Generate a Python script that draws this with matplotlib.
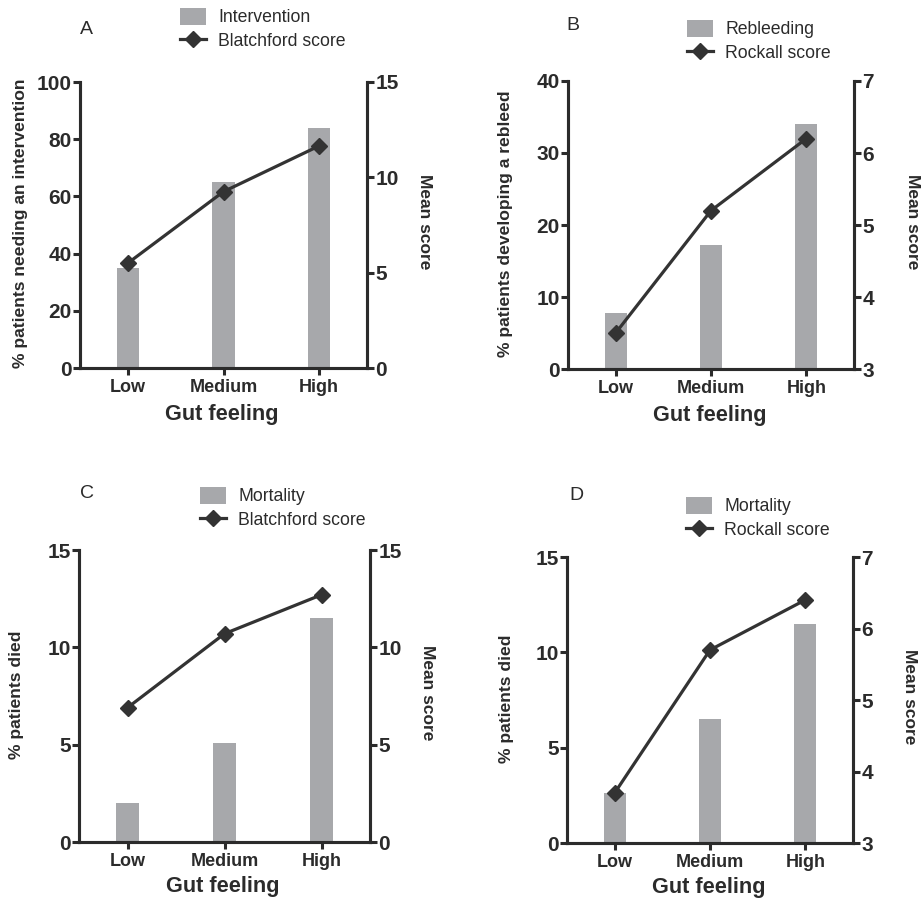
import matplotlib
matplotlib.use("Agg")
import matplotlib.pyplot as plt
from matplotlib.lines import Line2D
from matplotlib.patches import Patch

plt.rcParams['font.family'] = ['Liberation Sans', 'DejaVu Sans']

categories = ["Low", "Medium", "High"]

# panel A
intervention = [35, 65, 84]
blatchford_a = [5.5, 9.25, 11.65]
# panel B
rebleeding = [7.8, 17.2, 34]
rockall_b = [3.5, 5.2, 6.2]
# panel C
mortality_c = [2.0, 5.1, 11.5]
blatchford_c = [6.9, 10.7, 12.7]
# panel D
mortality_d = [2.6, 6.5, 11.5]
rockall_d = [3.7, 5.7, 6.4]

bar_col = "#a7a8ab"
line_col = "#333333"
txt_col = "#2b2b2b"

W, H = 922, 905
fig = plt.figure(figsize=(W / 100, H / 100), dpi=100)

panels = [
    # letter, bars, line, bar label, line label, ylabel, left lim, left ticks, right lim, right ticks,
    # axes box (px), letter pos (px), legend pos (px), ylabel x, y2label x, xlabel y
    ("A", intervention, blatchford_a, "Intervention", "Blatchford score",
     "% patients needing an intervention", (0, 100), [0, 20, 40, 60, 80, 100], (0, 15), [0, 5, 10, 15],
     (80, 82, 287, 286), (80, 30), (180, 8), -0.206, 1.202, -0.164),
    ("B", rebleeding, rockall_b, "Rebleeding", "Rockall score",
     "% patients developing a rebleed", (0, 40), [0, 10, 20, 30, 40], (3, 7), [3, 4, 5, 6, 7],
     (568, 81, 286, 288), (566, 25), (687, 20), -0.217, 1.206, -0.16),
    ("C", mortality_c, blatchford_c, "Mortality", "Blatchford score",
     "% patients died", (0, 15), [0, 5, 10, 15], (0, 15), [0, 5, 10, 15],
     (79, 550, 291, 292), (80, 493), (200, 487), -0.216, 1.199, -0.153),
    ("D", mortality_d, rockall_d, "Mortality", "Rockall score",
     "% patients died", (0, 15), [0, 5, 10, 15], (3, 7), [3, 4, 5, 6, 7],
     (567, 557, 286, 286), (569, 495), (686, 497), -0.213, 1.196, -0.155),
]

x = list(range(len(categories)))

for (letter, bars, line, bar_lab, line_lab, ylab, ylim, yticks, y2lim, y2ticks,
     box, letter_pos, leg_pos, ylx, y2lx, xly) in panels:
    left, top, w, h = box
    ax = fig.add_axes([left / W, 1 - (top + h) / H, w / W, h / H])
    ax.bar(x, bars, width=0.23, color=bar_col, zorder=1)
    ax.set_xlim(-0.5, 2.5)
    ax.set_ylim(*ylim)
    ax.set_yticks(yticks)
    ax.set_xticks(x)
    ax.set_xticklabels(categories)

    ax2 = ax.twinx()
    ax2.plot(x, line, color=line_col, lw=2.3, marker="D", markersize=8.5, zorder=3)
    ax2.set_ylim(*y2lim)
    ax2.set_yticks(y2ticks)

    for a in (ax, ax2):
        a.spines["top"].set_visible(False)
        for s in ("left", "right", "bottom"):
            a.spines[s].set_linewidth(2.2)
            a.spines[s].set_color(txt_col)
        a.tick_params(width=2.2, length=5, color=txt_col, labelcolor=txt_col)
    ax.tick_params(axis="y", labelsize=15, pad=1)
    ax.tick_params(axis="x", labelsize=13, pad=3)
    ax2.tick_params(axis="y", labelsize=15, pad=1)
    for lab in ax.get_yticklabels() + ax.get_xticklabels() + ax2.get_yticklabels():
        lab.set_fontweight("bold")

    ax.set_ylabel(ylab, fontsize=12.6, fontweight="bold", color=txt_col, va="center")
    ax.yaxis.set_label_coords(ylx, 0.505)
    ax2.set_ylabel("Mean score", fontsize=12.5, fontweight="bold", color=txt_col, rotation=270, va="center")
    ax2.yaxis.set_label_coords(y2lx, 0.51)
    ax.set_xlabel("Gut feeling", fontsize=15.7, fontweight="bold", color=txt_col, va="center")
    ax.xaxis.set_label_coords(0.495, xly)

    fig.text(letter_pos[0] / W, 1 - letter_pos[1] / H, letter, fontsize=14,
             color=txt_col, va="center", ha="left")

    handles = [Patch(facecolor=bar_col, edgecolor="none"),
               Line2D([], [], color=line_col, lw=2.3, marker="D", markersize=8.5)]
    leg = fig.legend(handles, [bar_lab, line_lab], loc="upper left",
                     bbox_to_anchor=(leg_pos[0] / W, 1 - leg_pos[1] / H),
                     frameon=False, fontsize=12.7, borderpad=0, borderaxespad=0,
                     handlelength=1.48, handleheight=1.08, handletextpad=0.68,
                     labelspacing=0.31)
    for t in leg.get_texts():
        t.set_color(txt_col)

fig.savefig("out.png", dpi=100)
